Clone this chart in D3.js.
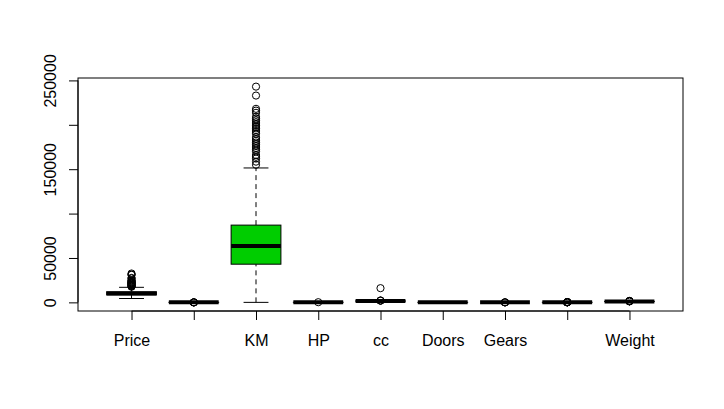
<!DOCTYPE html>
<html>
<head>
<meta charset="utf-8">
<script src="https://cdn.jsdelivr.net/npm/d3@7"></script>
<style>
  body { margin: 0; background: #fff; }
  svg text { font-family: Arial, "Liberation Sans", sans-serif; font-size: 16px; fill: #000; }
</style>
</head>
<body>
<div id="chart"></div>
<script>
// boxplot statistics per variable (Toyota Corolla data)
const varNames   = ["Price", "Age", "KM", "HP", "cc", "Doors", "Gears", "Quarterly_Tax", "Weight"];
const tickLabels = ["Price", "", "KM", "HP", "cc", "Doors", "Gears", "", "Weight"];
const lowWhisker  = [4350, 6, 1, 69, 1300, 2, 5, 69, 1000];
const q1          = [8450, 44, 43000, 90, 1400, 3, 5, 69, 1040];
const median      = [9900, 61, 63390, 110, 1600, 4, 5, 85, 1070];
const q3          = [11950, 70, 87020, 110, 1600, 5, 5, 85, 1085];
const highWhisker = [16950, 80, 151400, 116, 1800, 5, 5, 85, 1150];
const outliers = [
  [17650, 17950, 18500, 18950, 19500, 19950, 20500, 20950, 21500, 21750, 22250, 22750, 23000, 23950, 24500, 24950, 26950, 27500, 31000, 31275, 32500],
  [1, 2, 3, 4],
  [243000, 232940, 218000, 216000, 213500, 209000, 207000, 205000, 203000, 201000, 199000, 197500, 196000, 194000, 192000, 190000, 186000, 184000, 182000, 180000, 178000, 176000, 174000, 172000, 170000, 166000, 164000, 162000, 158500, 155000],
  [192],
  [1975, 1995, 2000, 16000],
  [],
  [3, 4, 6],
  [19, 100, 163, 185, 197, 210, 234, 283],
  [1165, 1185, 1255, 1320, 1480, 1615]
];
const boxFill = ["white", "white", "#00CD00", "white", "white", "white", "white", "white", "white"];
const yTicks = [0, 50000, 100000, 150000, 200000, 250000];
const yTickShown = [0, 50000, 150000, 250000];

const width = 724, height = 409;
const plot = {left: 78, right: 683, top: 78, bottom: 311};

const svg = d3.select("#chart").append("svg")
  .attr("width", width).attr("height", height);

svg.append("rect").attr("width", width).attr("height", height).attr("fill", "#fff");

// R style: data range extended by 4%
const xScale = d3.scaleLinear().domain([0.14, 9.86]).range([plot.left, plot.right]);
const yScale = d3.scaleLinear().domain([-9720, 252720]).range([plot.bottom, plot.top]);

const boxW = (xScale(1.4) - xScale(1));   // half width, boxwex 0.8
const capW = boxW / 2;

varNames.forEach((name, i) => {
  const cx = xScale(i + 1);
  const g = svg.append("g");

  // whiskers (dashed)
  g.append("line")
    .attr("x1", cx).attr("x2", cx)
    .attr("y1", yScale(lowWhisker[i])).attr("y2", yScale(q1[i]))
    .attr("stroke", "black").attr("stroke-dasharray", "5,4");
  g.append("line")
    .attr("x1", cx).attr("x2", cx)
    .attr("y1", yScale(q3[i])).attr("y2", yScale(highWhisker[i]))
    .attr("stroke", "black").attr("stroke-dasharray", "5,4");

  // staples
  [lowWhisker[i], highWhisker[i]].forEach(v => {
    g.append("line")
      .attr("x1", cx - capW).attr("x2", cx + capW)
      .attr("y1", yScale(v)).attr("y2", yScale(v))
      .attr("stroke", "black");
  });

  // box
  g.append("rect")
    .attr("x", cx - boxW).attr("width", boxW * 2)
    .attr("y", yScale(q3[i]))
    .attr("height", Math.max(0, yScale(q1[i]) - yScale(q3[i])))
    .attr("fill", boxFill[i]).attr("stroke", "black");

  // median
  g.append("line")
    .attr("x1", cx - boxW).attr("x2", cx + boxW)
    .attr("y1", yScale(median[i])).attr("y2", yScale(median[i]))
    .attr("stroke", "black").attr("stroke-width", 4);

  // outliers
  g.selectAll("circle").data(outliers[i]).join("circle")
    .attr("cx", cx).attr("cy", d => yScale(d))
    .attr("r", 3.6).attr("fill", "none").attr("stroke", "black");
});

// frame
svg.append("rect")
  .attr("x", plot.left).attr("y", plot.top)
  .attr("width", plot.right - plot.left).attr("height", plot.bottom - plot.top)
  .attr("fill", "none").attr("stroke", "black");

// y axis
const yAxis = svg.append("g")
  .attr("transform", `translate(${plot.left},0)`)
  .call(d3.axisLeft(yScale).tickValues(yTicks).tickSize(9).tickSizeOuter(0)
    .tickFormat(d => yTickShown.includes(d) ? d : ""));
yAxis.select(".domain").attr("d", `M0,${yScale(0)}V${yScale(250000)}`).attr("stroke", "black");
yAxis.selectAll("line").attr("stroke", "black");
yAxis.selectAll("text")
  .attr("transform", "rotate(-90)")
  .attr("x", 0).attr("y", -22).attr("dy", 0)
  .attr("text-anchor", "middle")
  .style("font-family", "Arial, 'Liberation Sans', sans-serif").style("font-size", "16px");

// x axis
const xAxis = svg.append("g")
  .attr("transform", `translate(0,${plot.bottom})`)
  .call(d3.axisBottom(xScale).tickValues(d3.range(1, 10)).tickSize(9).tickSizeOuter(0)
    .tickFormat((d, i) => tickLabels[i]));
xAxis.select(".domain").attr("d", `M${xScale(1)},0H${xScale(9)}`).attr("stroke", "black");
xAxis.selectAll("line").attr("stroke", "black");
xAxis.selectAll("text")
  .attr("y", 35).attr("dy", 0)
  .style("font-family", "Arial, 'Liberation Sans', sans-serif").style("font-size", "16px");
</script>
</body>
</html>
